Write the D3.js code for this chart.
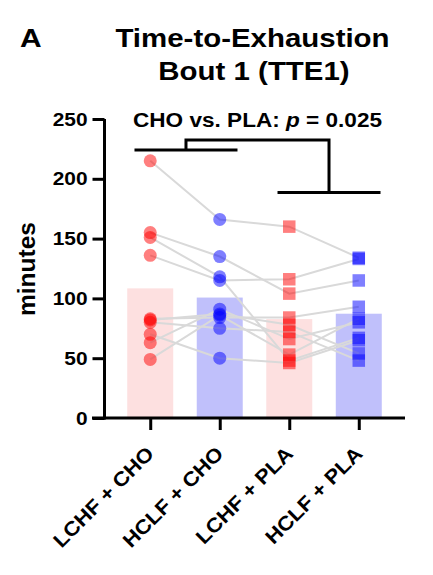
<!DOCTYPE html>
<html><head><meta charset="utf-8">
<script src="https://cdn.jsdelivr.net/npm/d3@7"></script>
<style>html,body{margin:0;padding:0;background:#fff;} svg{display:block;} text{font-family:"Liberation Sans",Arial,sans-serif;font-weight:bold;fill:#000;}</style>
</head><body>
<svg id="chart" width="433" height="575"></svg>
<script>
// ---- data ----
const categories = ["LCHF + CHO", "HCLF + CHO", "LCHF + PLA", "HCLF + PLA"];
const lchfCho = [215, 155, 151, 136, 83, 82, 80, 70, 63, 49];
const hclfCho = [166, 135, 118, 115, 84, 87, 75, 50, 91, 86];
const lchfPla = [160, 104, 48, 116, 84, 78, 72, 46, 66, 53];
const hclfPla = [134, 115, 67, 133, 93, 54, 48, 65, 80, 83];
const yTicks = [0, 50, 100, 150, 200, 250];
const bracketLevels = { left: 224, top: 232.5, right: 188.5 };

const series = [lchfCho, hclfCho, lchfPla, hclfPla];
const isLCHF = [true, false, true, false];
const isPLA = [false, false, true, true];

const svg = d3.select("#chart");
const x = d3.scalePoint().domain(categories).range([104, 405]).padding(0.665);
const y = d3.scaleLinear().domain([0, 250]).range([418, 119]);

const barW = 46;
const barFill = c => isLCHF[categories.indexOf(c)] ? "#fde0e0" : "#c0c0fb";
const ptFill = i => isLCHF[i] ? "#ff0000" : "#0000ff";

// bars (means)
svg.append("g").selectAll("rect").data(categories).join("rect")
  .attr("x", c => x(c) - barW / 2)
  .attr("width", barW)
  .attr("y", (c, i) => y(d3.mean(series[i])))
  .attr("height", (c, i) => y(0) - y(d3.mean(series[i])))
  .attr("fill", barFill);

// subject lines
const subjects = d3.range(lchfCho.length).map(k => series.map((s, i) => [x(categories[i]), y(s[k])]));
svg.append("g").selectAll("path").data(subjects).join("path")
  .attr("d", d3.line())
  .attr("fill", "none").attr("stroke", "#d9d9d9").attr("stroke-width", 2);

// points
const pts = [];
series.forEach((s, i) => s.forEach(v => pts.push({ i, v })));
const pg = svg.append("g");
pg.selectAll("circle").data(pts.filter(p => !isPLA[p.i])).join("circle")
  .attr("cx", p => x(categories[p.i])).attr("cy", p => y(p.v)).attr("r", 6.5)
  .attr("fill", p => ptFill(p.i)).attr("fill-opacity", 0.5);
const sq = 12.5;
pg.selectAll("rect").data(pts.filter(p => isPLA[p.i])).join("rect")
  .attr("x", p => x(categories[p.i]) - sq / 2).attr("y", p => y(p.v) - sq / 2)
  .attr("width", sq).attr("height", sq)
  .attr("fill", p => ptFill(p.i)).attr("fill-opacity", 0.5);

// axes
const yAxis = svg.append("g").attr("transform", "translate(104.5,0)")
  .call(d3.axisLeft(y).tickValues(yTicks).tickSize(12).tickSizeOuter(0).tickPadding(5));
const xAxis = svg.append("g").attr("transform", "translate(0,418)")
  .call(d3.axisBottom(x).tickSize(12).tickSizeOuter(0));
[yAxis, xAxis].forEach(a => {
  a.selectAll("path,line").attr("stroke", "#000").attr("stroke-width", 3);
});
yAxis.select("path.domain").attr("d", `M0,${y(0) + 1.5}V${y(250)}`);
xAxis.select("path.domain").attr("d", `M92,0H405`);
yAxis.selectAll("text").attr("font-size", 19).attr("font-family", "Liberation Sans, Arial, sans-serif")
  .attr("font-weight", "bold").attr("fill", "#000")
  .attr("transform", function () { const t = d3.select(this); return `translate(${t.attr("x")},0) scale(1.1,1) translate(${-t.attr("x")},0)`; });
xAxis.selectAll("text").remove();
// rotated x labels
svg.append("g").selectAll("text").data(categories).join("text")
  .attr("transform", c => `translate(${x(c)},450) rotate(-45) scale(1.1,1)`)
  .attr("text-anchor", "end").attr("dy", "0.35em").attr("font-size", 20)
  .text(c => c);

// y label
svg.append("text").attr("transform", "translate(35,269) rotate(-90)")
  .attr("text-anchor", "middle").attr("font-size", 24.5).text("minutes");

// titles
svg.append("text").attr("transform", "translate(252.5,47) scale(1.15,1)").attr("text-anchor", "middle")
  .attr("font-size", 25.6).text("Time-to-Exhaustion");
svg.append("text").attr("transform", "translate(254,80) scale(1.15,1)").attr("text-anchor", "middle")
  .attr("font-size", 25.6).text("Bout 1 (TTE1)");
svg.append("text").attr("transform", "translate(20,47) scale(1.17,1)").attr("font-size", 25.6).text("A");
const sub = svg.append("text").attr("transform", "translate(257.5,127) scale(1.075,1)").attr("text-anchor", "middle")
  .attr("font-size", 21);
sub.append("tspan").text("CHO vs. PLA: ");
sub.append("tspan").attr("font-style", "italic").text("p");
sub.append("tspan").text(" = 0.025");

// brackets
const lc = (x(categories[0]) + x(categories[1])) / 2 + 1;
const rc = (x(categories[2]) + x(categories[3])) / 2 + 5;
const half = 50;
const bpath = d3.path();
bpath.moveTo(lc - half, y(bracketLevels.left)); bpath.lineTo(lc + half, y(bracketLevels.left));
bpath.moveTo(lc, y(bracketLevels.left)); bpath.lineTo(lc, y(bracketLevels.top)); bpath.lineTo(rc, y(bracketLevels.top)); bpath.lineTo(rc, y(bracketLevels.right));
bpath.moveTo(rc - half, y(bracketLevels.right)); bpath.lineTo(rc + half, y(bracketLevels.right));
svg.append("path").attr("d", bpath.toString()).attr("fill", "none").attr("stroke", "#000").attr("stroke-width", 3)
  .attr("stroke-linecap", "square").attr("stroke-linejoin", "miter");
</script>
</body></html>
